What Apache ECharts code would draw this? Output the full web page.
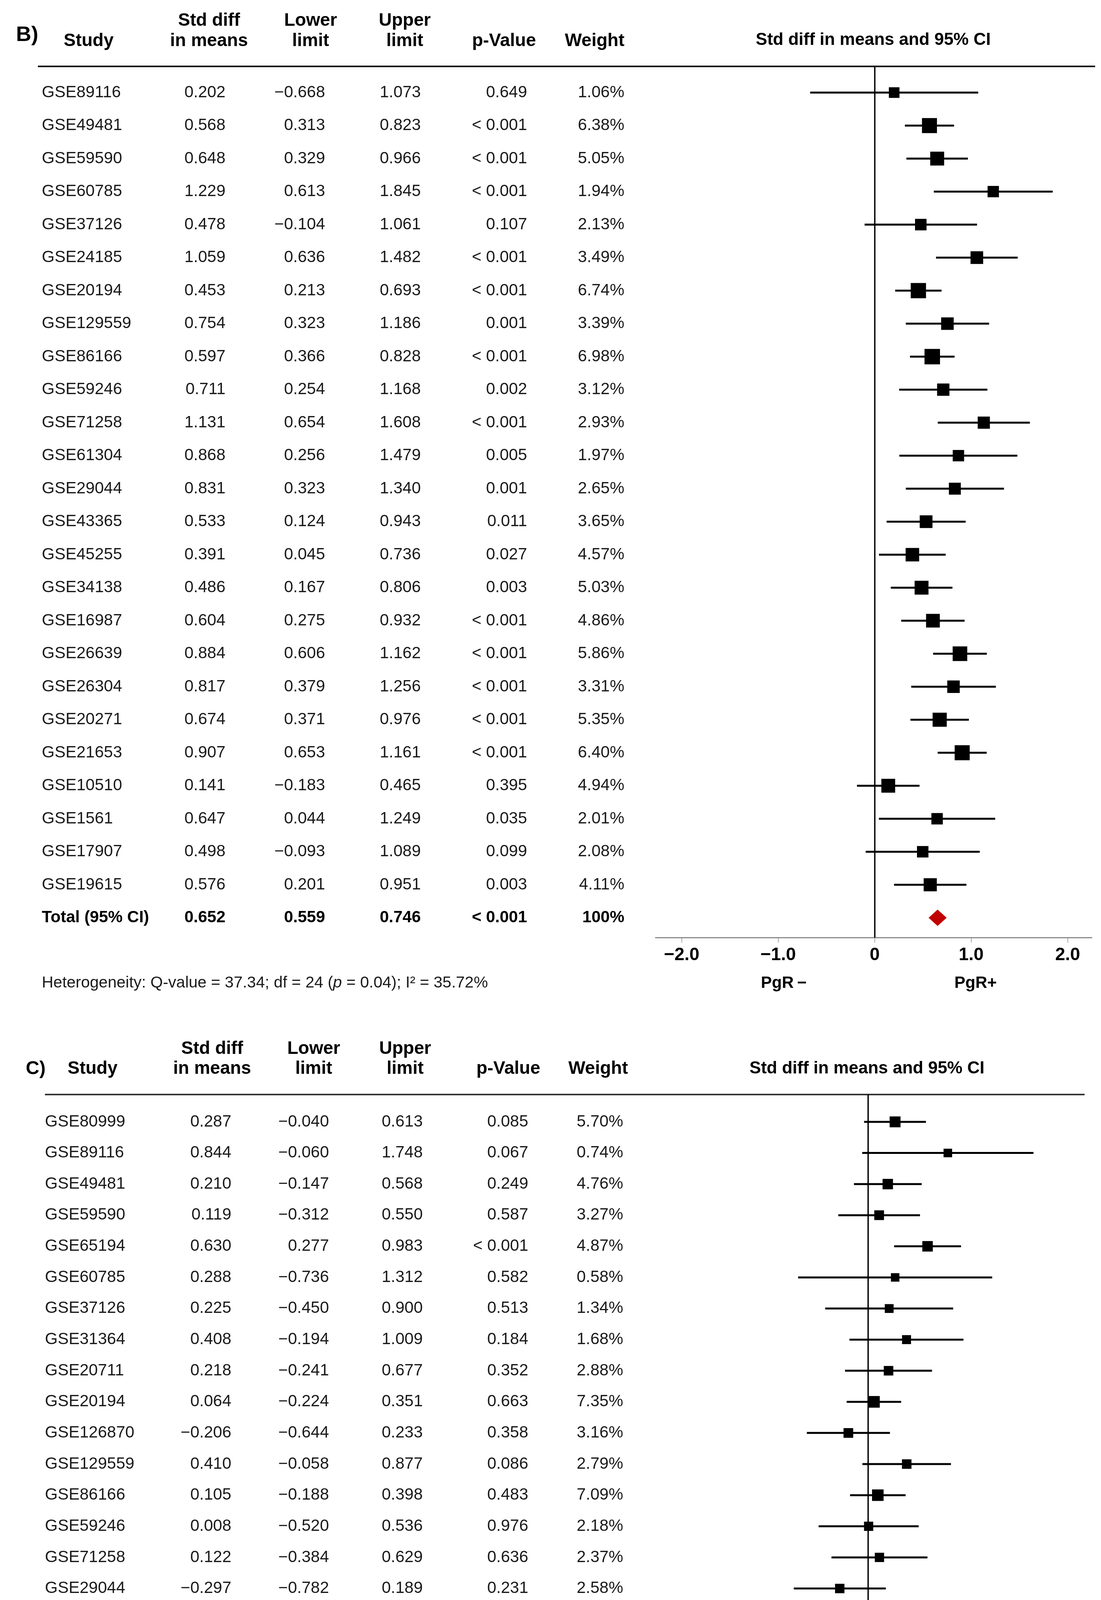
<!DOCTYPE html>
<html><head><meta charset="utf-8">
<script src="https://cdn.jsdelivr.net/npm/echarts@6/dist/echarts.min.js"></script>
<style>html,body{margin:0;padding:0;background:#fff}#c{width:2818px;height:5399px}</style>
</head><body><div id="c"></div>
<script>
// ---------------- DATA: panel B (PgR) ----------------
const studiesB = ['GSE89116','GSE49481','GSE59590','GSE60785','GSE37126','GSE24185','GSE20194','GSE129559','GSE86166','GSE59246','GSE71258','GSE61304','GSE29044','GSE43365','GSE45255','GSE34138','GSE16987','GSE26639','GSE26304','GSE20271','GSE21653','GSE10510','GSE1561','GSE17907','GSE19615'];
const estB   = [0.202,0.568,0.648,1.229,0.478,1.059,0.453,0.754,0.597,0.711,1.131,0.868,0.831,0.533,0.391,0.486,0.604,0.884,0.817,0.674,0.907,0.141,0.647,0.498,0.576];
const lowerB = [-0.668,0.313,0.329,0.613,-0.104,0.636,0.213,0.323,0.366,0.254,0.654,0.256,0.323,0.124,0.045,0.167,0.275,0.606,0.379,0.371,0.653,-0.183,0.044,-0.093,0.201];
const upperB = [1.073,0.823,0.966,1.845,1.061,1.482,0.693,1.186,0.828,1.168,1.608,1.479,1.340,0.943,0.736,0.806,0.932,1.162,1.256,0.976,1.161,0.465,1.249,1.089,0.951];
const pB     = ['0.649','< 0.001','< 0.001','< 0.001','0.107','< 0.001','< 0.001','0.001','< 0.001','0.002','< 0.001','0.005','0.001','0.011','0.027','0.003','< 0.001','< 0.001','< 0.001','< 0.001','< 0.001','0.395','0.035','0.099','0.003'];
const weightB = [1.06,6.38,5.05,1.94,2.13,3.49,6.74,3.39,6.98,3.12,2.93,1.97,2.65,3.65,4.57,5.03,4.86,5.86,3.31,5.35,6.40,4.94,2.01,2.08,4.11];
const totalB  = [0.652,0.559,0.746];
const totalTextB = ['< 0.001','100%'];
const groupLabelsB = ['PgR\u2009\u2212','PgR+'];
const hetB = ['37.34','24','0.04','35.72%'];

// ---------------- DATA: panel C (HER2) ----------------
const studiesC = ['GSE80999','GSE89116','GSE49481','GSE59590','GSE65194','GSE60785','GSE37126','GSE31364','GSE20711','GSE20194','GSE126870','GSE129559','GSE86166','GSE59246','GSE71258','GSE29044','GSE37181','GSE43365','GSE45255','GSE35629','GSE10893','GSE22597','GSE26639','GSE26304','GSE20271','GSE20624','GSE21653','GSE17907','GSE19615'];
const estC   = [0.287,0.844,0.210,0.119,0.630,0.288,0.225,0.408,0.218,0.064,-0.206,0.410,0.105,0.008,0.122,-0.297,0.070,0.030,-0.019,-0.284,0.095,0.029,0.367,0.072,0.347,0.103,0.249,0.047,0.261];
const lowerC = [-0.040,-0.060,-0.147,-0.312,0.277,-0.736,-0.450,-0.194,-0.241,-0.224,-0.644,-0.058,-0.188,-0.520,-0.384,-0.782,-0.430,-0.549,-0.362,-0.901,-0.230,-0.423,0.093,-0.364,-0.070,-0.305,-0.139,-0.991,-0.135];
const upperC = [0.613,1.748,0.568,0.550,0.983,1.312,0.900,1.009,0.677,0.351,0.233,0.877,0.398,0.536,0.629,0.189,0.570,0.610,0.324,0.333,0.420,0.482,0.641,0.508,0.765,0.510,0.637,1.085,0.656];
const pC     = ['0.085','0.067','0.249','0.587','< 0.001','0.582','0.513','0.184','0.352','0.663','0.358','0.086','0.483','0.976','0.636','0.231','0.784','0.918','0.916','0.367','0.566','0.899','0.009','0.746','0.103','0.622','0.209','0.929','0.196'];
const weightC = [5.70,0.74,4.76,3.27,4.87,0.58,1.34,1.68,2.88,7.35,3.16,2.79,7.09,2.18,2.37,2.58,2.43,1.81,5.17,1.60,5.75,2.97,8.10,3.19,3.49,3.66,4.03,0.56,3.89];
const totalC  = [0.169,0.091,0.247];
const totalTextC = ['< 0.001','100%'];
const groupLabelsC = ['HER2\u2009\u2212','HER2+'];
const hetC = ['26.03','28','0.571','0%'];

// ---------------- AXIS TICKS / HEADERS ----------------
const tickValues = [-2,-1,0,1,2];
const tickLabels = ['\u22122.0','\u22121.0','0','1.0','2.0'];
const headerLine1 = ['Std diff','Lower','Upper','',''];
const headerLine2 = ['in means','limit','limit','p-Value','Weight'];
const forestTitle = 'Std diff in means and 95% CI';

// ---------------- LAYOUT / STYLE ----------------
const FONT = '"Liberation Sans", Arial, Helvetica, sans-serif';
const panels = [
 {letter:'B)', studies:studiesB, est:estB, lower:lowerB, upper:upperB, p:pB, weight:weightB, total:totalB, totalText:totalTextB, groups:groupLabelsB, het:hetB,
  L:{grid:{left:1678, top:169.4, width:1116.4, height:2230.8}, yMin:-0.8, yMax:25.6, xMin:-2.27, xMax:2.25,
     letterX:41, letterY:90, letterSize:54, studyX:107, studyHeadX:163,
     colRight:[577,832,1077,1349,1598], headCenter:[535,795,1036,1290,1522], head1Y:53, head2Y:105,
     titleX:2235, titleY:103, lineY:170, lineX1:97, lineX2:2803, lineColor:'#000',
     hetX:107, hetY:2517, groupX:[2006,2497], groupY:2517,
     sqBase:25, sqK:2.1, diamondH:42}},
 {letter:'C)', studies:studiesC, est:estC, lower:lowerC, upper:upperC, p:pC, weight:weightC, total:totalC, totalText:totalTextC, groups:groupLabelsC, het:hetC,
  L:{grid:{left:1666, top:2801.9, width:1097.3, height:2427.4}, yMin:-0.88, yMax:29.6, xMin:-2.29, xMax:2.235,
     letterX:66, letterY:2737, letterSize:48, studyX:115, studyHeadX:173,
     colRight:[592,842,1082,1352,1595], headCenter:[543,803,1037,1301,1531], head1Y:2685, head2Y:2736,
     titleX:2219, titleY:2736, lineY:2802, lineX1:115, lineX2:2776, lineColor:'#333',
     hetX:117, hetY:5347, groupX:[1987,2470], groupY:5343,
     sqBase:21, sqK:1.2, diamondH:32}}
];

function fmt(v){ return (v < 0 ? '\u2212' : '') + Math.abs(v).toFixed(3); }
function txt(x, y, text, size, weight, align, extra){
  return Object.assign({type:'text', x:x, y:y, silent:true, style:{text:text, fill:'#000', fontSize:size, fontFamily:FONT, fontWeight:weight||'normal',
    align:align||'left', textAlign:align||'left', verticalAlign:'middle', textVerticalAlign:'middle'}}, extra||{});
}

const grids=[], xAxes=[], yAxes=[], series=[], graphics=[];
panels.forEach(function(P, k){
  const L = P.L, n = P.studies.length;
  grids.push(Object.assign({containLabel:false}, L.grid));
  xAxes.push({type:'value', gridIndex:k, min:L.xMin, max:L.xMax,
    axisLine:{show:true, onZero:false, lineStyle:{color:'#8c8c8c', width:3}},
    axisTick:{show:true, customValues:tickValues, length:13, lineStyle:{color:'#8c8c8c', width:1.5}},
    axisLabel:{customValues:tickValues, margin:22, fontSize:46, fontWeight:'bold', color:'#000', fontFamily:FONT,
      formatter:function(v){ const i = tickValues.indexOf(Math.round(v)); return i >= 0 ? tickLabels[i] : ''; }},
    splitLine:{show:false}});
  yAxes.push({type:'value', gridIndex:k, inverse:true, min:L.yMin, max:L.yMax, show:false});

  const forestData = P.studies.map(function(s, i){ return [P.lower[i], P.upper[i], P.est[i], i, P.weight[i]]; });
  forestData.push([P.total[1], P.total[2], P.total[0], n, -1]);
  series.push({type:'custom', xAxisIndex:k, yAxisIndex:k, clip:false, silent:true, data:forestData,
    encode:{x:[0,1,2], y:3},
    renderItem:function(params, api){
      const row = api.value(3);
      const lo = api.coord([api.value(0), row]), hi = api.coord([api.value(1), row]), c = api.coord([api.value(2), row]);
      const w = api.value(4);
      if (w < 0){
        const h = L.diamondH/2;
        return {type:'polygon', shape:{points:[[lo[0],c[1]],[c[0],c[1]-h],[hi[0],c[1]],[c[0],c[1]+h]]}, style:{fill:'#c00000'}};
      }
      const s = L.sqBase + L.sqK*w;
      return {type:'group', children:[
        {type:'line', shape:{x1:lo[0], y1:lo[1], x2:hi[0], y2:hi[1]}, style:{stroke:'#000', lineWidth:5}},
        {type:'rect', shape:{x:c[0]-s/2, y:c[1]-s/2, width:s, height:s}, style:{fill:'#000'}}
      ]};
    },
    markLine:{silent:true, symbol:['none','none'], label:{show:false}, animation:false,
      lineStyle:{color:'#000', width:3.5, type:'solid'}, data:[{xAxis:0}]}
  });

  // table text, rows positioned by the same y axis
  const tableData = P.studies.map(function(s, i){ return [0, i]; });
  tableData.push([0, n]);
  series.push({type:'custom', xAxisIndex:k, yAxisIndex:k, clip:false, silent:true, data:tableData,
    encode:{x:0, y:1},
    renderItem:function(params, api){
      const i = params.dataIndex;
      const y = api.coord([0, api.value(1)])[1];
      const isTot = i === n;
      const vals = isTot
        ? ['Total (95% CI)', fmt(P.total[0]), fmt(P.total[1]), fmt(P.total[2]), P.totalText[0], P.totalText[1]]
        : [P.studies[i], fmt(P.est[i]), fmt(P.lower[i]), fmt(P.upper[i]), P.p[i], P.weight[i].toFixed(2) + '%'];
      const fw = isTot ? 'bold' : 'normal';
      const col = isTot ? '#000' : '#1a1a1a';
      const ch = [];
      const xs = [L.studyX].concat(L.colRight);
      vals.forEach(function(v, j){
        ch.push({type:'text', x:xs[j], y:y, style:{text:v, fill:col, fontSize:42, fontFamily:FONT, fontWeight:fw,
          align:j===0?'left':'right', textAlign:j===0?'left':'right', verticalAlign:'middle', textVerticalAlign:'middle'}});
      });
      return {type:'group', children:ch};
    }
  });

  // header, lines and notes
  graphics.push(txt(L.letterX, L.letterY, P.letter, L.letterSize, 'bold', 'left'));
  graphics.push(txt(L.studyHeadX, L.head2Y, 'Study', 46, 'bold', 'left'));
  headerLine1.forEach(function(h, j){ if (h) graphics.push(txt(L.headCenter[j], L.head1Y, h, 46, 'bold', 'center')); });
  headerLine2.forEach(function(h, j){ if (h) graphics.push(txt(L.headCenter[j], L.head2Y, h, 46, 'bold', 'center')); });
  graphics.push(txt(L.titleX, L.titleY, forestTitle, 44, 'bold', 'center'));
  graphics.push({type:'line', silent:true, shape:{x1:L.lineX1, y1:L.lineY, x2:L.lineX2, y2:L.lineY}, style:{stroke:L.lineColor, lineWidth:4}});
  graphics.push({type:'text', x:L.hetX, y:L.hetY, silent:true, style:{
    text:'Heterogeneity: Q-value = ' + P.het[0] + '; df = ' + P.het[1] + ' ({i|p} = ' + P.het[2] + '); I\u00b2 = ' + P.het[3],
    fill:'#1a1a1a', fontSize:41, fontFamily:FONT, align:'left', textAlign:'left', verticalAlign:'middle', textVerticalAlign:'middle',
    rich:{i:{fontStyle:'italic', fontSize:41, fontFamily:FONT, fill:'#1a1a1a'}}}});
  P.groups.forEach(function(g, j){ graphics.push(txt(L.groupX[j], L.groupY, g, 42, 'bold', 'center')); });
});

const chart = echarts.init(document.getElementById('c'), null, {renderer:'canvas', width:2818, height:5399});
chart.setOption({animation:false, backgroundColor:'#fff', grid:grids, xAxis:xAxes, yAxis:yAxes, series:series, graphic:graphics});
</script>
</body></html>
